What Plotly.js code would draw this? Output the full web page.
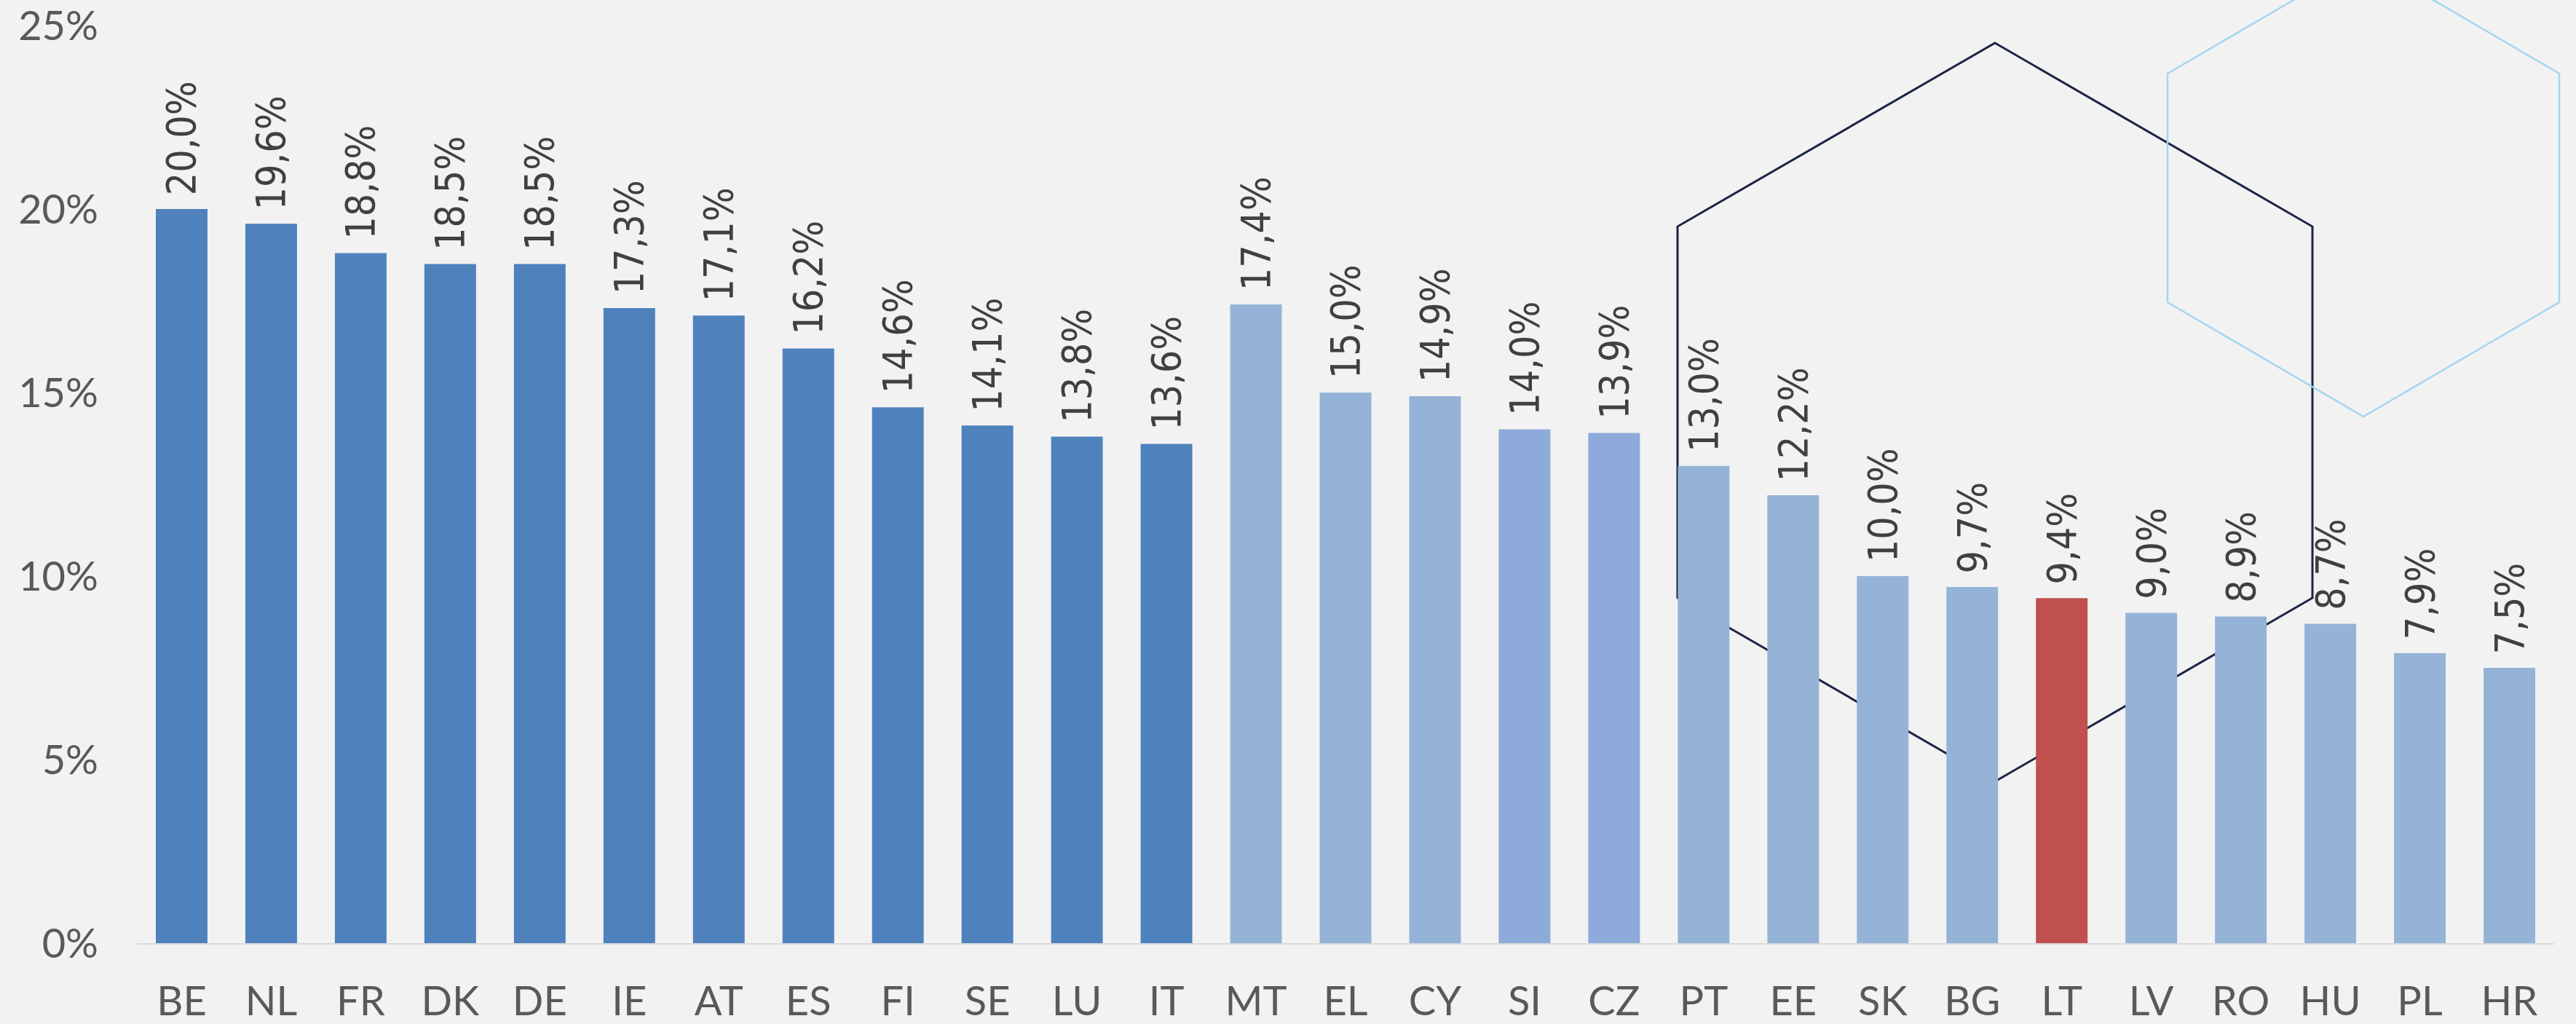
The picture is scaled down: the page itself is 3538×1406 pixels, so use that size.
<!DOCTYPE html>
<html><head><meta charset="utf-8">
<script src="https://cdn.plot.ly/plotly-3.0.1.min.js"></script>
<style>html,body{margin:0;padding:0;background:#f2f2f2;}</style>
</head><body>
<div id="chart" style="width:3538px;height:1406px;"></div>
<script>
// ---- data ----
const countries = ['BE','NL','FR','DK','DE','IE','AT','ES','FI','SE','LU','IT','MT','EL','CY','SI','CZ','PT','EE','SK','BG','LT','LV','RO','HU','PL','HR'];
const values = [20.0,19.6,18.8,18.5,18.5,17.3,17.1,16.2,14.6,14.1,13.8,13.6,17.4,15.0,14.9,14.0,13.9,13.0,12.2,10.0,9.7,9.4,9.0,8.9,8.7,7.9,7.5];
const groups = ['a','a','a','a','a','a','a','a','a','a','a','a','b','b','b','c','c','b','b','b','b','d','b','b','b','b','b'];
const yTickVals = [0,5,10,15,20,25];
const yTickText = ['0%','5%','10%','15%','20%','25%'];

// ---- styles ----
const groupColor = {a:'#4F81BD', b:'#95B3D7', c:'#8EAADB', d:'#C0504D'};
const W = 3538, H = 1406;
const M = {l:188, r:30, t:35, b:111};
const plotW = W - M.l - M.r, plotH = H - M.t - M.b;
function px(x){ return (x - M.l)/plotW; }
function py(y){ return (H - M.b - y)/plotH; }
function hexPath(cx, topY, half, rise, edge){
  const pts = [[cx, topY],[cx+half, topY+rise],[cx+half, topY+rise+edge],[cx, topY+2*rise+edge],[cx-half, topY+rise+edge],[cx-half, topY+rise]];
  return 'M ' + pts.map(p => px(p[0]).toFixed(5)+','+py(p[1]).toFixed(5)).join(' L ') + ' Z';
}

const labels = values.map(v => '\u00A0' + v.toFixed(1).replace('.', ',') + '%');

const trace = {
  type:'bar',
  x: countries,
  y: values,
  marker:{color: groups.map(g => groupColor[g]), line:{width:0}},
  text: labels,
  textposition:'outside',
  textangle:-90,
  constraintext:'none',
  cliponaxis:false,
  textfont:{family:'DejaVu Sans Condensed, DejaVu Sans, sans-serif', size:55, color:'#404040'},
  hoverinfo:'none'
};

const layout = {
  width:W, height:H,
  margin:M,
  paper_bgcolor:'#f2f2f2',
  plot_bgcolor:'rgba(0,0,0,0)',
  bargap:0.423,
  showlegend:false,
  xaxis:{
    type:'category',
    showline:true, linecolor:'#d9d9d9', linewidth:2,
    showgrid:false, zeroline:false, ticks:'',
    tickfont:{family:'Lato, Carlito, sans-serif', size:56, color:'#595959'},
    ticklabelstandoff:30
  },
  yaxis:{
    range:[0,25],
    showline:false, showgrid:false, zeroline:false, ticks:'',
    tickvals:yTickVals, ticktext:yTickText,
    ticklabeloverflow:'allow',
    tickfont:{family:'Lato, Carlito, sans-serif', size:56, color:'#595959'},
    ticklabelstandoff:52
  },
  shapes:[
    {type:'path', xref:'paper', yref:'paper', layer:'below',
     path: hexPath(2740, 59, 436, 252, 510),
     line:{color:'#1b2442', width:3}, fillcolor:'rgba(0,0,0,0)'},
    {type:'path', xref:'paper', yref:'paper', layer:'below',
     path: hexPath(3246, -56, 269, 157, 314),
     line:{color:'#a3d6f0', width:2.5}, fillcolor:'rgba(0,0,0,0)'}
  ]
};

Plotly.newPlot('chart', [trace], layout, {displayModeBar:false, staticPlot:true});
</script>
</body></html>
